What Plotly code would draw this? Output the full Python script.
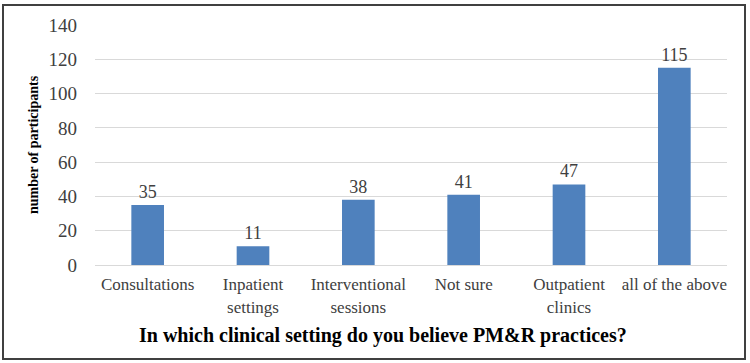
import plotly.graph_objects as go

categories = ["Consultations", "Inpatient<br>settings", "Interventional<br>sessions",
              "Not sure", "Outpatient<br>clinics", "all of the above"]
values = [35, 11, 38, 41, 47, 115]
y_ticks = [0, 20, 40, 60, 80, 100, 120, 140]

FONT = "Liberation Serif"

fig = go.Figure(go.Bar(
    x=categories, y=values,
    marker=dict(color="#4f81bd", line=dict(width=0)),
    text=[str(v) for v in values], textposition="outside",
    textfont=dict(family=FONT, size=18, color="#404040"),
    cliponaxis=False, width=0.31,
))

fig.update_layout(
    width=750, height=363,
    margin=dict(l=95, r=23, t=25, b=98),
    paper_bgcolor="white", plot_bgcolor="white",
    showlegend=False,
    font=dict(family=FONT, color="#404040"),
    xaxis=dict(
        tickfont=dict(family=FONT, size=17, color="#404040"),
        showline=True, linecolor="#d9d9d9", linewidth=1,
        ticks="", showgrid=False, ticklabelstandoff=4,
    ),
    yaxis=dict(
        range=[0, 140], tickvals=y_ticks,
        tickfont=dict(family=FONT, size=19, color="#404040"),
        showgrid=True, gridcolor="#d9d9d9", gridwidth=1,
        zeroline=False, showline=False, ticks="",
        ticklabelstandoff=17,
        title=dict(text="<b>number of participants</b>",
                   font=dict(family=FONT, size=14, color="black"), standoff=6),
    ),
    annotations=[dict(
        text="<b>In which clinical setting do you believe PM&R practices?</b>",
        xref="paper", yref="paper", x=(383 - 95) / 632, y=(265 - 335) / 240,
        xanchor="center", yanchor="middle", showarrow=False,
        font=dict(family=FONT, size=20, color="black"),
    )],
    shapes=[dict(
        type="rect", xref="paper", yref="paper",
        x0=(3 - 95) / 632, x1=(745 - 95) / 632,
        y0=(265 - 359) / 240, y1=(265 - 5) / 240,
        line=dict(color="#404040", width=2), fillcolor="rgba(0,0,0,0)",
        layer="above",
    )],
)

fig.write_html("out.html")
